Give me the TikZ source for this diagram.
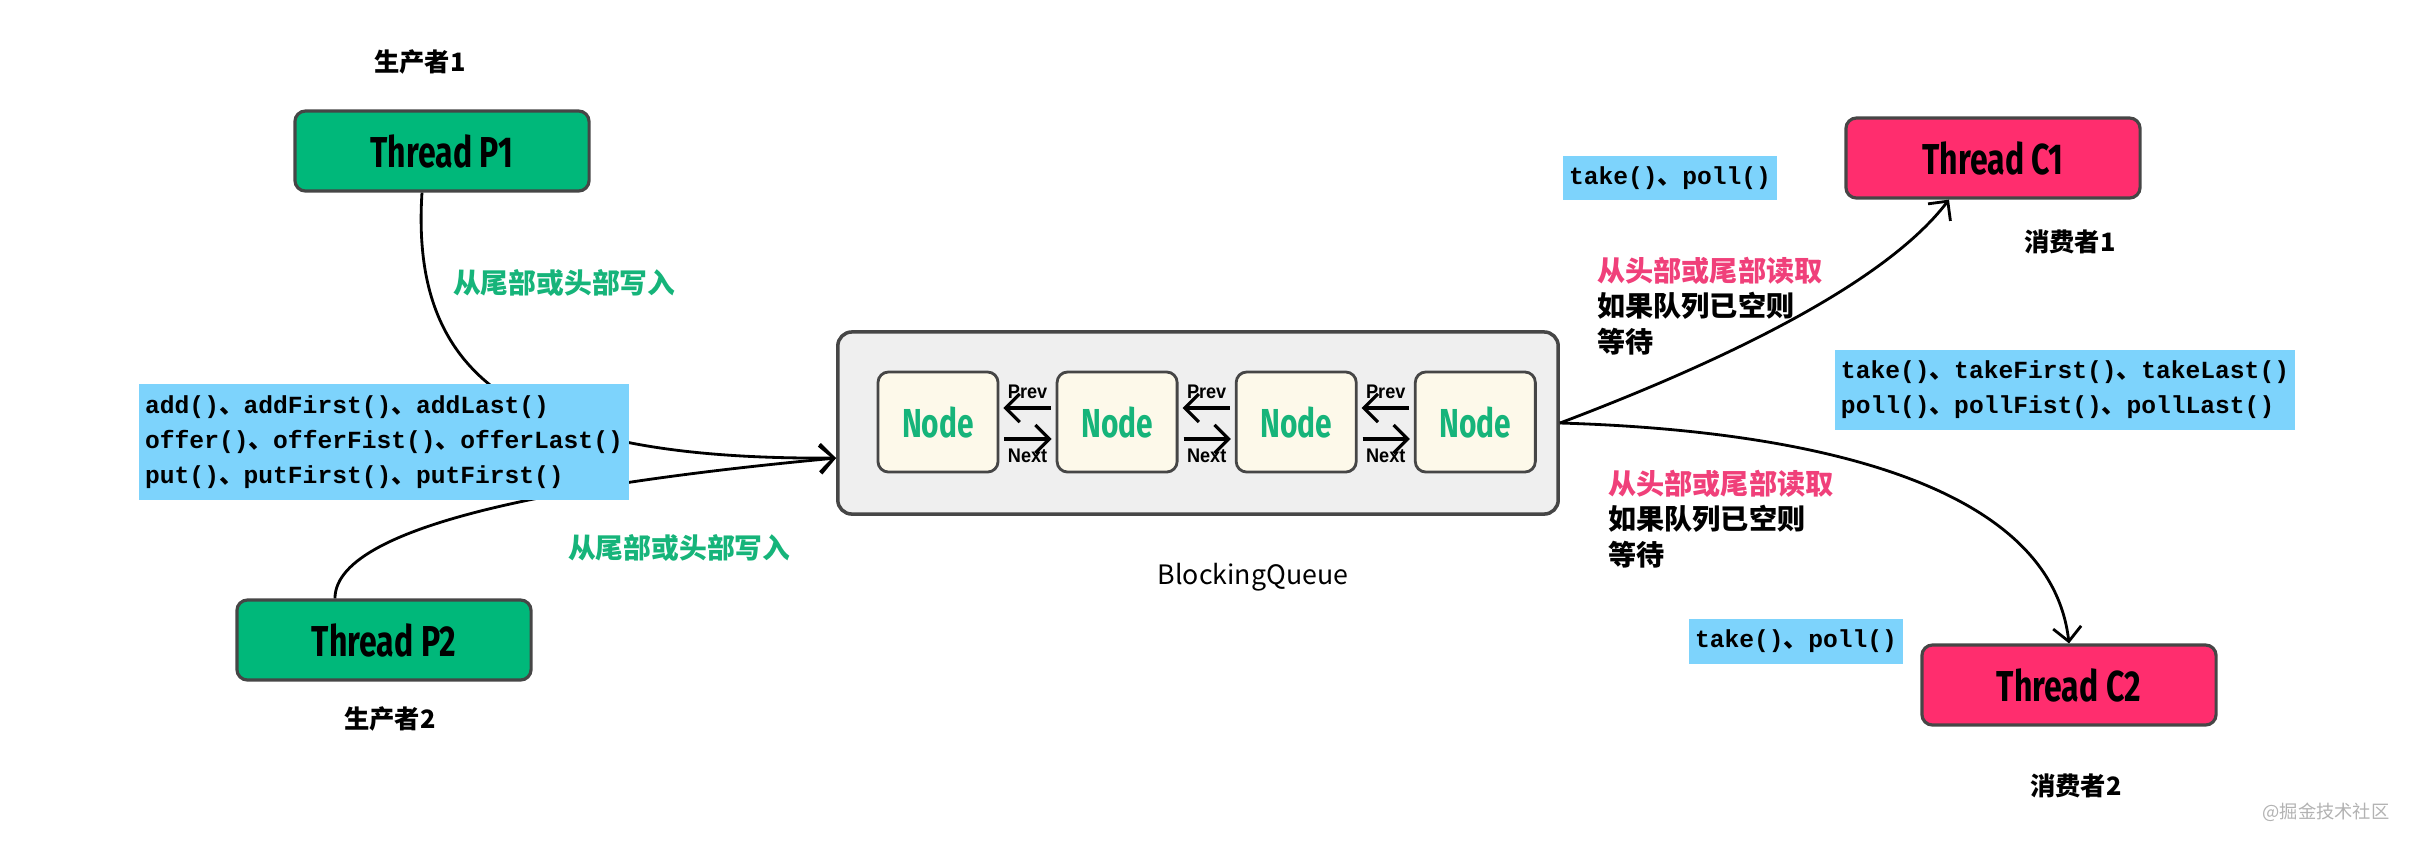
\documentclass[tikz,border=0pt]{standalone}
\usepackage{fontspec}
\usepackage{tikz}
\usetikzlibrary{arrows.meta, positioning}
\setmainfont{Noto Sans CJK SC}
\newfontfamily\cjkfont{Noto Sans CJK SC}
\newfontfamily\codefont{Liberation Mono}
\newfontfamily\handfont{Fira Sans}[FakeStretch=0.74]
\newfontfamily\labfont{Liberation Sans}[FakeStretch=0.92]
\definecolor{prodgreen}{RGB}{0,184,122}
\definecolor{conspink}{RGB}{255,45,110}
\definecolor{apiblue}{RGB}{125,211,252}
\definecolor{qgray}{RGB}{239,239,239}
\definecolor{nodecream}{RGB}{253,249,234}
\definecolor{txtgreen}{RGB}{22,180,122}
\definecolor{txtred}{RGB}{240,64,122}
\definecolor{edgegray}{RGB}{70,70,70}
\newcommand{\dn}{{\cjkfont 、}}

\begin{document}
\begin{tikzpicture}[
            x = 0.01cm,
            y = -0.01cm,
            > = {Straight Barb[length=4pt, width=8pt]},
            line width = 0.8pt,
            node distance = 1.79cm,
            on grid,
            thread/.style = {draw=edgegray, line width=0.9pt, rounded corners=3pt,
                minimum width=2.94cm, minimum height=0.8cm,
                font=\handfont\bfseries\fontsize{12.3}{14}\selectfont},
            producer/.style = {thread, fill=prodgreen},
            consumer/.style = {thread, fill=conspink},
            api/.style = {fill=apiblue, align=left, inner xsep=0.06cm, inner ysep=0.11cm,
                font=\codefont\bfseries\fontsize{7}{10}\selectfont},
            queue/.style = {draw=edgegray, line width=1pt, fill=qgray, rounded corners=4pt,
                minimum width=7.2cm, minimum height=1.82cm},
            qnode/.style = {draw=edgegray, line width=0.8pt, fill=nodecream, rounded corners=3pt,
                minimum width=1.2cm, minimum height=1cm, text=txtgreen,
                font=\handfont\bfseries\fontsize{11.5}{13}\selectfont},
            role/.style = {font=\bfseries\fontsize{7.2}{9}\selectfont},
            tip/.style = {align=left, inner sep=0pt, anchor=north west,
                font=\bfseries\fontsize{8}{10}\selectfont},
            wtext/.style = {anchor=west, text=txtgreen, font=\bfseries\fontsize{7.9}{10}\selectfont},
            link/.style = {->, line width=0.9pt, shorten >=0.04cm, shorten <=0.05cm},
            ptr/.style = {font=\labfont\bfseries\fontsize{5.6}{6}\selectfont, inner sep=1pt}
        ]
        \useasboundingbox (0,0) rectangle (2412,844);

        % producers
        \node[role] (p1name) at (420,62) {生产者1};
        \node[producer] (P1) at (442,151) {Thread P1};
        \node[producer] (P2) at (384,640) {Thread P2};
        \node[role] (p2name) at (390,719) {生产者2};

        % the queue
        \node[queue] (Q) at (1198,423) {};
        \node[qnode] (N1) at (938,422) {Node};
        \node[qnode, right of=N1] (N2) {Node};
        \node[qnode, right of=N2] (N3) {Node};
        \node[qnode, right of=N3] (N4) {Node};
        \node[font=\fontsize{7.6}{9}\selectfont] (qname) at (1253,577) {BlockingQueue};

        \path ([yshift=0.14cm]N2.west) edge[link] node[ptr, above=0.04cm] {Prev} ([yshift=0.14cm]N1.east);
        \path ([yshift=0.14cm]N3.west) edge[link] node[ptr, above=0.04cm] {Prev} ([yshift=0.14cm]N2.east);
        \path ([yshift=0.14cm]N4.west) edge[link] node[ptr, above=0.04cm] {Prev} ([yshift=0.14cm]N3.east);
        \path ([yshift=-0.17cm]N1.east) edge[link] node[ptr, below=0.05cm] {Next} ([yshift=-0.17cm]N2.west);
        \path ([yshift=-0.17cm]N2.east) edge[link] node[ptr, below=0.05cm] {Next} ([yshift=-0.17cm]N3.west);
        \path ([yshift=-0.17cm]N3.east) edge[link] node[ptr, below=0.05cm] {Next} ([yshift=-0.17cm]N4.west);

        % consumers
        \node[consumer] (C1) at (1993,158) {Thread C1};
        \node[role] (c1name) at (2070,242) {消费者1};
        \node[consumer] (C2) at (2069,685) {Thread C2};
        \node[role] (c2name) at (2076,786) {消费者2};

        \coordinate (qin) at ([yshift=-0.35cm]Q.west);
        \coordinate (c1in) at ([xshift=-0.44cm]C1.south);

        % writes and reads
        \draw[->] ([xshift=-0.2cm]P1.south) .. controls (410,380) and (520,460) .. (qin);
        \draw[->] ([xshift=-0.49cm]P2.north) .. controls (335,520) and (600,480) .. (qin);
        \draw[->] (Q.east) .. controls (1700,370) and (1880,290) .. (c1in);
        \draw[->] (Q.east) .. controls (1800,430) and (2050,480) .. (C2.north);

        % method boxes
        \node[api] (put) at (384,442) {add()\dn addFirst()\dn addLast()\\offer()\dn offerFist()\dn offerLast()\\put()\dn putFirst()\dn putFirst()};
        \node[api] (take1) at (1670,178) {take()\dn poll()};
        \node[api] (takeall) at (2065,390) {take()\dn takeFirst()\dn takeLast()\\poll()\dn pollFist()\dn pollLast()};
        \node[api] (take2) at (1796,641) {take()\dn poll()};

        % notes
        \node[wtext] (w1) at (440,283) {从尾部或头部写入};
        \node[wtext] (w2) at (555,548) {从尾部或头部写入};
        \node[tip] (r1) at (1596,256) {\textcolor{txtred}{从头部或尾部读取}\\如果队列已空则\\等待};
        \node[tip] (r2) at (1607,469) {\textcolor{txtred}{从头部或尾部读取}\\如果队列已空则\\等待};

        \node[text=black!30, font=\fontsize{5.2}{6}\selectfont] (mark) at (2326,812) {@掘金技术社区};
    \end{tikzpicture}
\end{document}
